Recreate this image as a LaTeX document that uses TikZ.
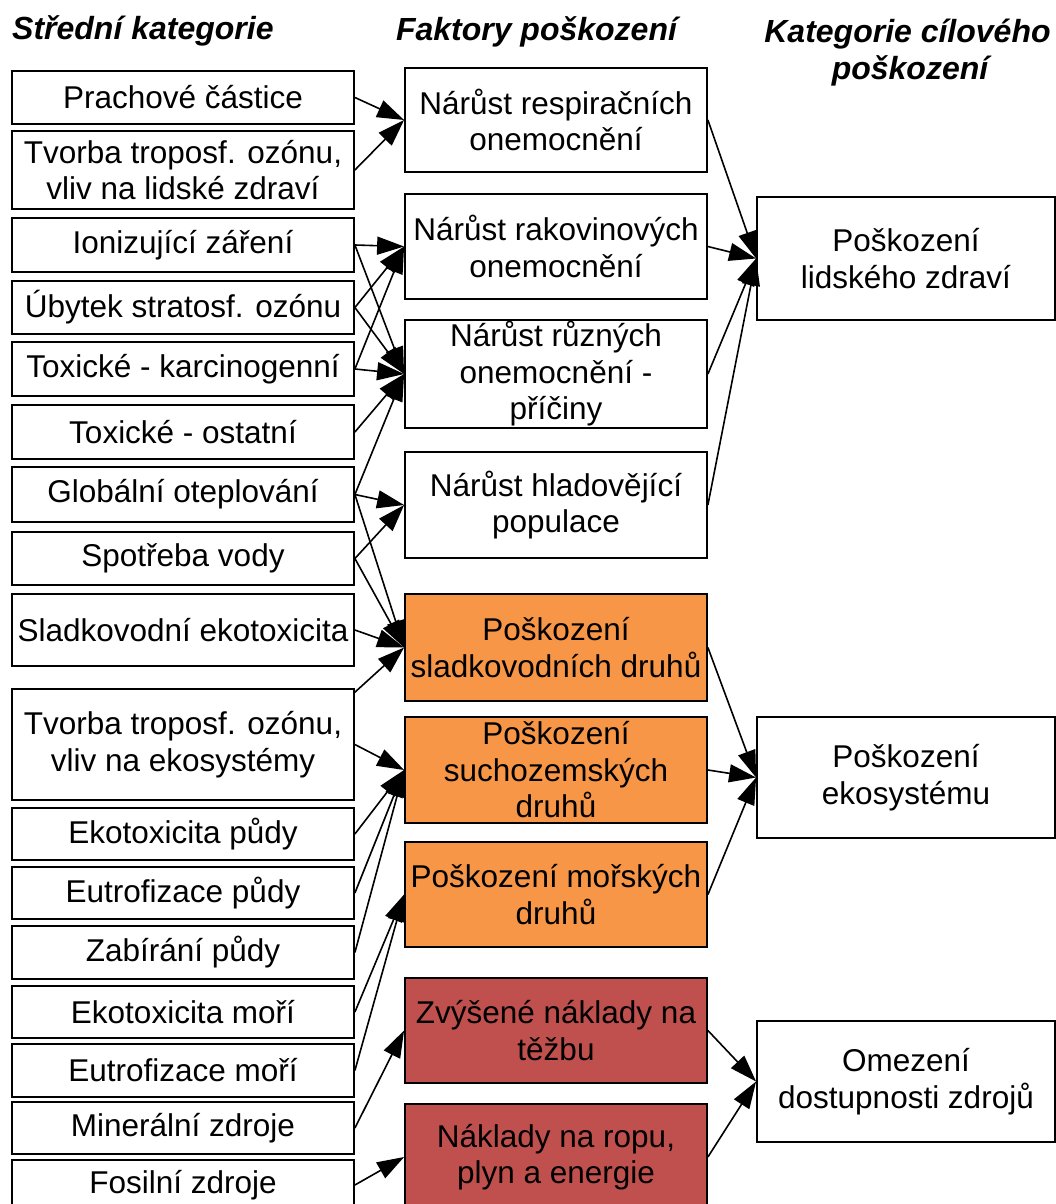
\documentclass[tikz,border=0pt]{standalone}
\usepackage{fontspec}
\setmainfont{Liberation Sans}
\usetikzlibrary{arrows.meta}
\definecolor{orng}{RGB}{247,150,70}
\definecolor{rd}{RGB}{192,80,77}
\begin{document}
\begin{tikzpicture}[x=1pt,y=-1pt,
  bx/.style={draw, line width=1.8pt, inner sep=0pt, align=center, font=\fontsize{31.5}{36.5}\selectfont},
  lbox/.style={bx, minimum width=342pt},
  mbox/.style={bx, minimum width=302pt},
  rbox/.style={bx, minimum width=298pt},
  arr/.style={-{Triangle[length=27pt,width=18pt]}, line width=1.6pt},
  ttl/.style={font=\fontsize{32}{38}\selectfont\bfseries\itshape, inner sep=0pt, align=center}]
\useasboundingbox (0,0) rectangle (1056,1204);
\clip (0,0) rectangle (1056,1204);
% titles
\node[ttl, anchor=base west] (t1) at (12,40) {Střední kategorie};
\node[ttl, anchor=base] (t2) at (536.5,41) {Faktory poškození};
\node[ttl, anchor=base] (t3a) at (907.5,43) {Kategorie cílového};
\node[ttl, anchor=base] (t3b) at (910,80) {poškození};
% left column
\node[lbox, minimum height=53pt] (L1) at (183,97.5) {Prachové částice};
\node[lbox, minimum height=78pt] (L2) at (183,170) {Tvorba troposf. ozónu,\\vliv na lidské zdraví};
\node[lbox, minimum height=54pt] (L3) at (183,245) {Ionizující záření};
\node[lbox, minimum height=53pt] (L4) at (183,307.5) {Úbytek stratosf. ozónu};
\node[lbox, minimum height=54pt] (L5) at (183,369) {Toxické - karcinogenní};
\node[lbox, minimum height=54pt] (L6) at (183,432) {Toxické - ostatní};
\node[lbox, minimum height=55pt] (L7) at (183,494.5) {Globální oteplování};
\node[lbox, minimum height=53pt] (L8) at (183,558.5) {Spotřeba vody};
\node[lbox, minimum height=72pt] (L9) at (183,630) {Sladkovodní ekotoxicita};
\node[lbox, minimum height=111pt] (L10) at (183,744.5) {Tvorba troposf. ozónu,\\vliv na ekosystémy};
\node[lbox, minimum height=52pt] (L11) at (183,834) {Ekotoxicita půdy};
\node[lbox, minimum height=52pt] (L12) at (183,893) {Eutrofizace půdy};
\node[lbox, minimum height=53pt] (L13) at (183,952.5) {Zabírání půdy};
\node[lbox, minimum height=52pt] (L14) at (183,1012) {Ekotoxicita moří};
\node[lbox, minimum height=53pt] (L15) at (183,1070.5) {Eutrofizace moří};
\node[lbox, minimum height=52pt] (L16) at (183,1128) {Minerální zdroje};
\node[lbox, minimum height=50pt] (L17) at (183,1185) {Fosilní zdroje};
\coordinate (L10t) at (354,693);
% middle column
\node[mbox, minimum height=104pt] (M1) at (556,120) {Nárůst respiračních\\onemocnění};
\node[mbox, minimum height=105pt] (M2) at (556,246.5) {Nárůst rakovinových\\onemocnění};
\node[mbox, minimum height=108pt] (M3) at (556,374) {Nárůst různých\\onemocnění -\\příčiny};
\node[mbox, minimum height=106pt] (M4) at (556,505) {Nárůst hladovějící\\populace};
\node[mbox, fill=orng, minimum height=107pt] (M5) at (556,647.5) {Poškození\\sladkovodních druhů};
\node[mbox, fill=orng, minimum height=106pt] (M6) at (556,770) {Poškození\\suchozemských\\druhů};
\node[mbox, fill=orng, minimum height=105pt] (M7) at (556,894.5) {Poškození mořských\\druhů};
\node[mbox, fill=rd, minimum height=105pt] (M8) at (556,1030.5) {Zvýšené náklady na\\těžbu};
\node[mbox, fill=rd, minimum height=106pt] (M9) at (556,1157) {Náklady na ropu,\\plyn a energie};
% right column
\node[rbox, minimum height=123pt] (R1) at (906,258.5) {Poškození\\lidského zdraví};
\node[rbox, minimum height=121pt] (R2) at (906,777.5) {Poškození\\ekosystému};
\node[rbox, minimum height=121pt] (R3) at (906,1081.5) {Omezení\\dostupnosti zdrojů};
% connectors left -> middle
\draw[arr] (L1.east) -- (M1.west);
\draw[arr] (L2.east) -- (M1.west);
\draw[arr] (L3.east) -- (M2.west);
\draw[arr] (L3.east) -- (M3.west);
\draw[arr] (L4.east) -- (M2.west);
\draw[arr] (L4.east) -- (M3.west);
\draw[arr] (L5.east) -- (M2.west);
\draw[arr] (L5.east) -- (M3.west);
\draw[arr] (L6.east) -- (M3.west);
\draw[arr] (L7.east) -- (M3.west);
\draw[arr] (L7.east) -- (M4.west);
\draw[arr] (L7.east) -- (M5.west);
\draw[arr] (L8.east) -- (M4.west);
\draw[arr] (L8.east) -- (M5.west);
\draw[arr] (L9.east) -- (M5.west);
\draw[arr] (L10t) -- (M5.west);
\draw[arr] (L10.east) -- (M6.west);
\draw[arr] (L11.east) -- (M6.west);
\draw[arr] (L12.east) -- (M6.west);
\draw[arr] (L13.east) -- (M6.west);
\draw[arr] (L14.east) -- (M7.west);
\draw[arr] (L15.east) -- (M7.west);
\draw[arr] (L16.east) -- (M8.west);
\draw[arr] (L17.east) -- (M9.west);
% connectors middle -> right
\draw[arr] (M1.east) -- (R1.west);
\draw[arr] (M2.east) -- (R1.west);
\draw[arr] (M3.east) -- (R1.west);
\draw[arr] (M4.east) -- (R1.west);
\draw[arr] (M5.east) -- (R2.west);
\draw[arr] (M6.east) -- (R2.west);
\draw[arr] (M7.east) -- (R2.west);
\draw[arr] (M8.east) -- (R3.west);
\draw[arr] (M9.east) -- (R3.west);
\end{tikzpicture}
\end{document}
